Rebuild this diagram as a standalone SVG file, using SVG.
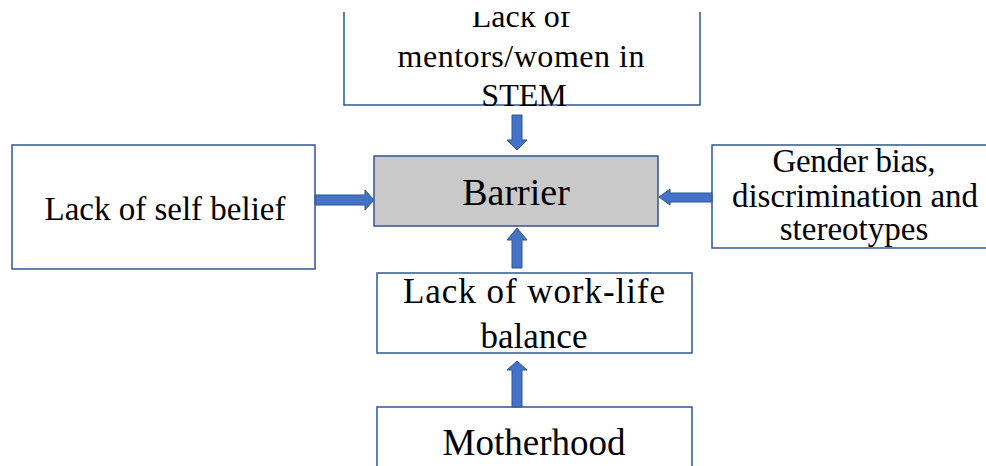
<svg xmlns="http://www.w3.org/2000/svg" width="986" height="466" viewBox="0 0 986 466">
<style>
.box{fill:#fff;stroke:#2f5597;stroke-width:1.5}
.bar{fill:#c9c9c9;stroke:#2f5597;stroke-width:1.5}
.t{font-family:"Liberation Serif","Times New Roman",serif;fill:#000;text-anchor:middle}
.arr{fill:#4472c4;stroke:#2f5597;stroke-width:1}
</style>
<defs>
<clipPath id="topclip"><rect x="0" y="12" width="986" height="454"/></clipPath>
</defs>
<rect width="986" height="466" fill="#fff"/>
<g id="node-mentors" clip-path="url(#topclip)">
<rect class="box" x="344" y="-40" width="356" height="145"/>
<text class="t" font-size="32" x="521" y="27">Lack of</text>
<text class="t" font-size="32" x="521" y="67" textLength="247" lengthAdjust="spacing">mentors/women  in</text>
<text class="t" font-size="32" x="524" y="106">STEM</text>
</g>
<g id="node-barrier">
<rect class="bar" x="374" y="156" width="284" height="70"/>
<text class="t" font-size="38" x="516" y="205">Barrier</text>
</g>
<g id="node-selfbelief">
<rect class="box" x="12" y="145" width="303" height="124"/>
<text class="t" font-size="33" x="165" y="220">Lack of self belief</text>
</g>
<g id="node-gender">
<rect class="box" x="712" y="145" width="290" height="103"/>
<text class="t" font-size="33" x="854" y="172" textLength="163" lengthAdjust="spacing">Gender  bias,</text>
<text class="t" font-size="33" x="855" y="207" textLength="246" lengthAdjust="spacing">discrimination  and</text>
<text class="t" font-size="33" x="854" y="240">stereotypes</text>
</g>
<g id="node-worklife">
<rect class="box" x="377" y="273" width="315" height="80"/>
<text class="t" font-size="35" x="534" y="303" textLength="262" lengthAdjust="spacing">Lack of work-life</text>
<text class="t" font-size="35" x="534" y="348">balance</text>
</g>
<g id="node-motherhood">
<rect class="box" x="377" y="407" width="315" height="80"/>
<text class="t" font-size="37" x="534" y="455">Motherhood</text>
</g>
<g id="connectors">
<polygon class="arr" points="512,115 522,115 522,140 527,140 517,150 507,140 512,140"/>
<polygon class="arr" points="315,195 365,195 365,190 374,200 365,210 365,205 315,205"/>
<polygon class="arr" points="712,193 670,193 670,189 659,197 670,205 670,202 712,202"/>
<polygon class="arr" points="512,268 512,240 507,240 517,228 527,240 522,240 522,268"/>
<polygon class="arr" points="512,407 512,370 507,370 517,361 527,370 522,370 522,407"/>
</g>
</svg>
